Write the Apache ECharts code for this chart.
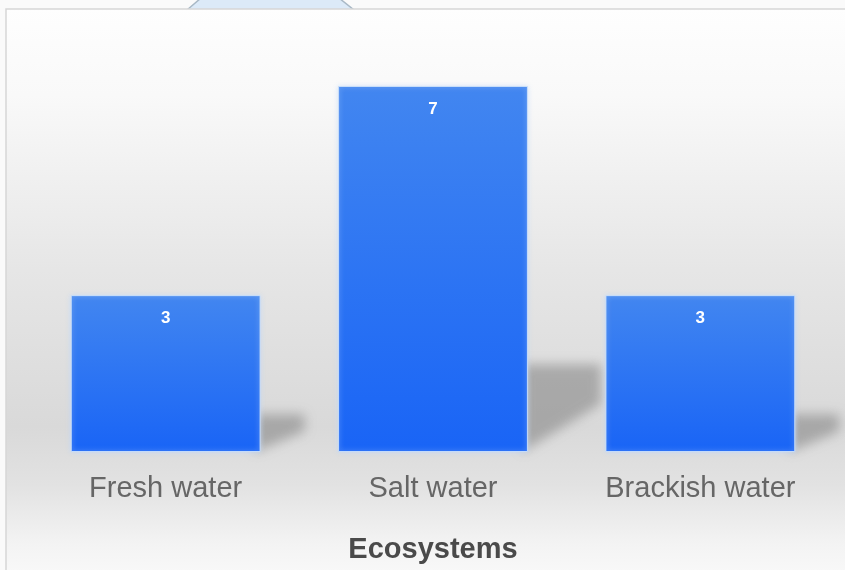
<!DOCTYPE html>
<html>
<head>
<meta charset="utf-8">
<script src="https://cdn.jsdelivr.net/npm/echarts@6/dist/echarts.min.js"></script>
<style>
html,body{margin:0;padding:0;background:#fafafa;}
#chart{width:845px;height:570px;}
</style>
</head>
<body>
<div id="chart"></div>
<script>
var categories = ['Fresh water', 'Salt water', 'Brackish water'];
var values = [3, 7, 3];
var axisTitle = 'Ecosystems';

var chart = echarts.init(document.getElementById('chart'), null, {renderer: 'canvas'});

var OFF = 3000;
var option = {
  animation: false,
  backgroundColor: '#fafafa',
  graphic: [
    {
      type: 'polygon', z: -10,
      shape: {points: [[187, 10], [201, -2], [339, -2], [354, 10]]},
      style: {fill: '#dceaf8', stroke: '#a9b9c6', lineWidth: 1.5}
    },
    {
      type: 'rect', z: -10,
      shape: {x: 6, y: 9, width: 860, height: 580},
      style: {
        fill: new echarts.graphic.LinearGradient(0, 0, 0, 1, [
          {offset: 0, color: '#fefefe'},
          {offset: 0.15, color: '#f9f9f9'},
          {offset: 0.45, color: '#e6e6e6'},
          {offset: 0.72, color: '#d9d9d9'},
          {offset: 0.82, color: '#e2e2e2'},
          {offset: 0.92, color: '#f3f3f3'},
          {offset: 1, color: '#fbfbfb'}
        ]),
        stroke: '#d6d6d6', lineWidth: 1.5
      }
    }
  ],
  grid: {left: 32, right: 11, top: 86, bottom: 118},
  xAxis: {
    type: 'category',
    data: categories,
    axisLine: {show: false},
    axisTick: {show: false},
    axisLabel: {color: '#666', fontSize: 29, fontFamily: 'Liberation Sans, Arial, sans-serif', margin: 22},
    name: axisTitle,
    nameLocation: 'middle',
    nameGap: 83,
    nameTextStyle: {color: '#4a4a4a', fontSize: 29, fontWeight: 'bold', fontFamily: 'Liberation Sans, Arial, sans-serif'}
  },
  yAxis: {
    type: 'value', min: 0, max: 7, show: false,
    splitLine: {show: false}
  },
  series: [
    {
      type: 'custom',
      z: 1,
      data: values.map(function (v, i) { return [i, v]; }),
      renderItem: function (params, api) {
        var base = api.coord([api.value(0), 0]);
        var top = api.coord([api.value(0), api.value(1)]);
        var bw = api.size([1, 0])[0] * 0.71;
        var xr = base[0] + bw / 2;
        var h = base[1] - top[1];
        var sh = h * 0.24;
        var dx = 22 + h * 0.14;
        return {
          type: 'polygon',
          shape: {points: [
            [xr - 6 - OFF, base[1]],
            [xr - 6 - OFF, base[1] - sh],
            [xr + dx - OFF, base[1] - sh],
            [xr + dx - OFF, base[1] - sh * 0.55]
          ]},
          style: {
            fill: '#000',
            shadowBlur: 12,
            shadowOffsetX: OFF,
            shadowColor: 'rgba(125,125,125,0.55)'
          }
        };
      }
    },
    {
      type: 'bar',
      z: 2,
      data: values,
      barWidth: '71%',
      itemStyle: {
        color: new echarts.graphic.LinearGradient(0, 0, 0, 1, [
          {offset: 0, color: '#4286f0'},
          {offset: 1, color: '#1964f6'}
        ]),
        borderColor: 'rgba(205,225,250,0.9)',
        borderWidth: 1,
        shadowColor: 'rgba(190,215,250,0.9)',
        shadowBlur: 5
      },
      label: {
        show: true,
        position: 'insideTop',
        distance: 15,
        color: '#ffffff',
        fontSize: 17,
        fontWeight: 'bold',
        fontFamily: 'Liberation Sans, Arial, sans-serif'
      }
    }
  ]
};
chart.setOption(option);
</script>
</body>
</html>
